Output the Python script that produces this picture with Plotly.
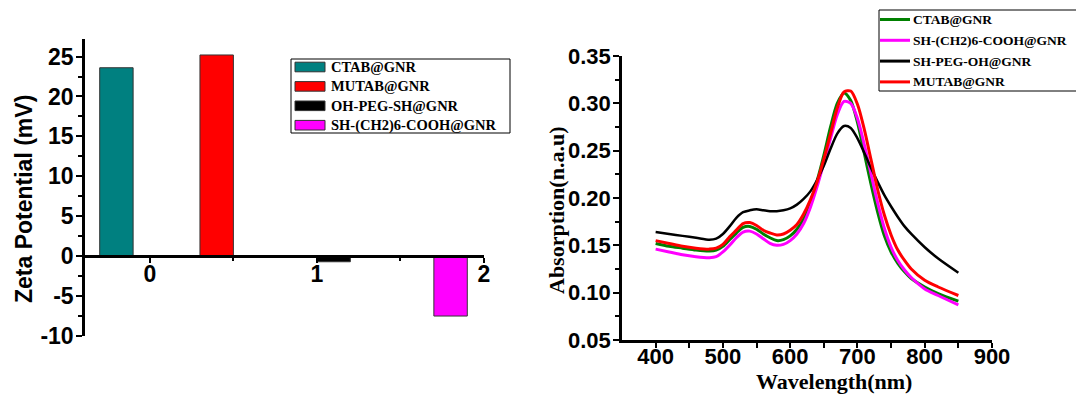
import plotly.graph_objects as go

# ---------------- data: zeta potential (left) ----------------
zeta_names = ["CTAB@GNR", "MUTAB@GNR", "OH-PEG-SH@GNR", "SH-(CH2)6-COOH@GNR"]
zeta_x = [-0.2, 0.4, 1.1, 1.8]
zeta_values = [23.6, 25.2, -0.7, -7.5]
zeta_colors = ["#008080", "#FF0000", "#000000", "#FF00FF"]
zeta_ticks = [-10, -5, 0, 5, 10, 15, 20, 25]
zeta_ticktext = ["-10", "-5", "0", "5", "10", "15", "20", "25"]

# ---------------- data: absorption spectra (right) ----------------
wavelength = [400, 420, 440, 460, 480, 490, 500, 510, 520, 530, 540, 550, 560, 570,
              580, 590, 600, 610, 620, 630, 640, 650, 660, 670, 680, 690, 700, 710,
              720, 730, 740, 750, 760, 770, 780, 800, 820, 850]
ctab = [.152, .149, .147, .145, .144, .145, .149, .156, .163, .169, .170, .167, .162, .158,
        .155, .156, .160, .167, .178, .195, .218, .245, .275, .300, .311, .303, .280, .248,
        .215, .185, .160, .143, .131, .122, .115, .106, .099, .091]
sh_cooh = [.146, .143, .140, .138, .137, .138, .143, .150, .158, .164, .165, .162, .157, .152,
           .150, .151, .155, .162, .173, .190, .212, .237, .263, .288, .302, .300, .284, .257,
           .226, .195, .168, .148, .134, .124, .116, .104, .097, .087]
sh_peg = [.164, .162, .160, .158, .156, .157, .162, .170, .179, .185, .187, .188, .187, .186,
          .186, .187, .189, .193, .199, .207, .219, .234, .252, .268, .276, .274, .263, .248,
          .232, .217, .203, .191, .180, .170, .162, .148, .136, .121]
mutab = [.155, .152, .149, .147, .146, .147, .151, .159, .166, .173, .174, .171, .166, .163,
         .161, .162, .166, .172, .183, .198, .217, .241, .268, .295, .312, .313, .299, .273,
         .241, .209, .182, .161, .145, .134, .125, .113, .106, .097]
spec_names = ["CTAB@GNR", "SH-(CH2)6-COOH@GNR", "SH-PEG-OH@GNR", "MUTAB@GNR"]
spec_series = [ctab, sh_cooh, sh_peg, mutab]
spec_colors = ["#008000", "#FF00FF", "#000000", "#FF0000"]
spec_widths = [3, 3, 2.5, 3]

# The page body has an 8px margin, so the figure is sized to end exactly at the window edge.
OFF = 8
W, H = 1084 - OFF, 401 - OFF
SANS = "Liberation Sans"
SERIF = "Liberation Serif"


def px(x):
    return (x - OFF) / W


def py(y):
    return 1 - (y - OFF) / H


fig = go.Figure()

# bars
for name, xv, val, col in zip(zeta_names, zeta_x, zeta_values, zeta_colors):
    fig.add_trace(go.Bar(x=[xv], y=[val], width=0.2,
                         marker=dict(color=col, line=dict(color="#333333", width=1)),
                         name=name, showlegend=False, xaxis="x", yaxis="y"))

# spectra
for name, ys, col, lw in zip(spec_names, spec_series, spec_colors, spec_widths):
    fig.add_trace(go.Scatter(x=wavelength, y=ys, mode="lines", name=name, showlegend=False,
                             line=dict(color=col, width=lw, shape="spline", smoothing=0.8),
                             xaxis="x2", yaxis="y2"))

tickfont = dict(family=SANS, size=23, color="black", weight="bold")
tickfont2 = dict(family=SANS, size=22, color="black", weight="bold")

# left axes geometry
y_range = [-10, 27.2]
y_dom = [py(336), py(39)]
zero_pos = y_dom[0] + (y_dom[1] - y_dom[0]) * (0 - y_range[0]) / (y_range[1] - y_range[0])

shapes = []
annotations = []

# legend box for bar chart (drawn manually to match wide swatches)
shapes.append(dict(type="rect", xref="paper", yref="paper", x0=px(291), x1=px(510), y0=py(133), y1=py(59),
                   line=dict(color="black", width=1), fillcolor="rgba(0,0,0,0)", layer="above"))
for i, (name, col) in enumerate(zip(zeta_names, zeta_colors)):
    yc = 67 + 19.4 * i
    shapes.append(dict(type="rect", xref="paper", yref="paper", x0=px(295), x1=px(325),
                       y0=py(yc + 4.8), y1=py(yc - 4.8), fillcolor=col,
                       line=dict(color="#333333", width=1), layer="above"))
    annotations.append(dict(text=name, x=px(329), y=py(yc), xref="paper", yref="paper", showarrow=False,
                            xanchor="left", yanchor="middle",
                            font=dict(family=SERIF, size=14.5, color="black", weight="bold")))

# legend box for spectra
shapes.append(dict(type="rect", xref="paper", yref="paper", x0=px(879), x1=px(1079), y0=py(91), y1=py(10),
                   line=dict(color="black", width=1), fillcolor="rgba(0,0,0,0)", layer="above"))
for i, (name, col) in enumerate(zip(spec_names, spec_colors)):
    yc = 19.5 + 20.8 * i
    shapes.append(dict(type="line", xref="paper", yref="paper", x0=px(880), x1=px(910),
                       y0=py(yc), y1=py(yc), line=dict(color=col, width=3), layer="above"))
    annotations.append(dict(text=name, x=px(911), y=py(yc), xref="paper", yref="paper", showarrow=False,
                            xanchor="left", yanchor="middle",
                            font=dict(family=SERIF, size=13.5, color="black", weight="bold")))

# axis titles
annotations += [
    dict(text="Zeta Potential (mV)", x=px(24), y=py(199), xref="paper", yref="paper",
         showarrow=False, textangle=-90, xanchor="center", yanchor="middle",
         font=dict(family=SANS, size=23, color="black", weight="bold")),
    dict(text="Absorption(n.a.u)", x=px(556), y=py(211), xref="paper", yref="paper",
         showarrow=False, textangle=-90, xanchor="center", yanchor="middle",
         font=dict(family=SERIF, size=22, color="black", weight="bold")),
    dict(text="Wavelength(nm)", x=px(834), y=py(381), xref="paper", yref="paper",
         showarrow=False, xanchor="center", yanchor="middle",
         font=dict(family=SERIF, size=22, color="black", weight="bold")),
]

fig.update_layout(
    width=W, height=H,
    margin=dict(l=0, r=0, t=0, b=0, autoexpand=False),
    paper_bgcolor="white", plot_bgcolor="white",
    showlegend=False,
    xaxis=dict(domain=[px(83), px(484)], range=[-0.4, 2.0], anchor="free", position=zero_pos,
               showline=True, linecolor="black", linewidth=2.5, showgrid=False, zeroline=False,
               tickmode="array", tickvals=[0, 1, 2], ticks="outside", ticklen=5, tickwidth=2,
               tickcolor="black", tickfont=tickfont, ticklabelstandoff=-9,
               minor=dict(tickvals=[0.5, 1.5], ticks="outside", ticklen=3, tickwidth=2, tickcolor="black")),
    yaxis=dict(domain=y_dom, range=y_range, anchor="free", position=px(83),
               showline=True, linecolor="black", linewidth=2.5, showgrid=False, zeroline=False,
               tickmode="array", tickvals=zeta_ticks, ticktext=zeta_ticktext, ticks="outside", ticklen=6,
               tickwidth=2, tickcolor="black", tickfont=tickfont, ticklabelstandoff=-2,
               minor=dict(dtick=2.5, tick0=0, ticks="outside", ticklen=4, tickwidth=2, tickcolor="black")),
    xaxis2=dict(domain=[px(622), px(992)], range=[350, 900], anchor="y2",
                showline=True, linecolor="black", linewidth=2.5, showgrid=False, zeroline=False,
                tickmode="array", tickvals=[400, 500, 600, 700, 800, 900], ticks="outside", ticklen=5,
                tickwidth=2, tickcolor="black", tickfont=tickfont2, ticklabelstandoff=-10,
                minor=dict(tickvals=[450, 550, 650, 750, 850], ticks="outside", ticklen=5, tickwidth=2,
                           tickcolor="black")),
    yaxis2=dict(domain=[py(340), py(56)], range=[0.05, 0.35], anchor="x2",
                showline=True, linecolor="black", linewidth=2.5, showgrid=False, zeroline=False,
                tickmode="array", tickvals=[0.05, 0.10, 0.15, 0.20, 0.25, 0.30, 0.35],
                tickformat=".2f", ticks="outside", ticklen=6, tickwidth=2, tickcolor="black",
                tickfont=tickfont2, ticklabelstandoff=-2,
                minor=dict(dtick=0.025, tick0=0.05, ticks="outside", ticklen=4, tickwidth=2,
                           tickcolor="black")),
    shapes=shapes,
    annotations=annotations,
)

fig.write_html("out.html")
